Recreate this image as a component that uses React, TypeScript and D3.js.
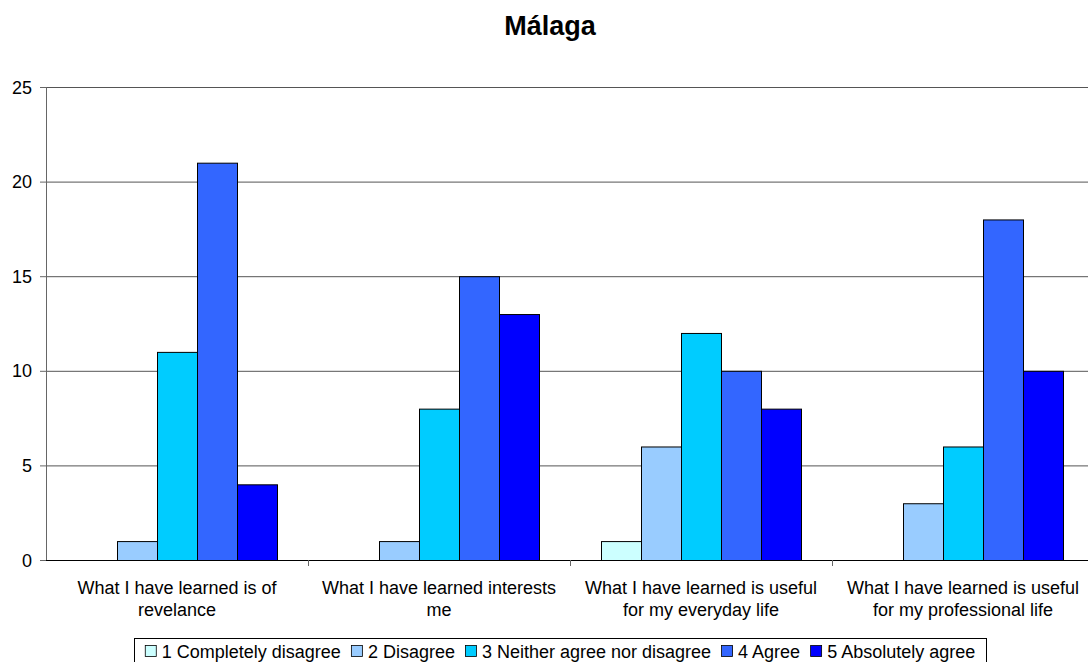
import React, { useEffect, useRef } from "react";
import * as d3 from "d3";

const categories = [
  ["What I have learned is of", "revelance"],
  ["What I have learned interests", "me"],
  ["What I have learned is useful", "for my everyday life"],
  ["What I have learned is useful", "for my professional life"],
];
const seriesNames = [
  "1 Completely disagree",
  "2 Disagree",
  "3 Neither agree nor disagree",
  "4 Agree",
  "5 Absolutely agree",
];
const seriesColors = ["#CCFFFF", "#99CCFF", "#00CCFF", "#3366FF", "#0000FF"];
const completelyDisagree = [0, 0, 1, 0];
const disagree = [1, 1, 6, 3];
const neither = [11, 8, 12, 6];
const agree = [21, 15, 10, 18];
const absolutelyAgree = [4, 13, 8, 10];
const yTicks = [0, 5, 10, 15, 20, 25];
const title = "Málaga";

const FONT = "'Liberation Sans', Arial, sans-serif";

export default function App() {
  const ref = useRef<SVGSVGElement>(null);
  useEffect(() => {
    const svg = d3.select(ref.current);
    svg.selectAll("*").remove();
    const values = [completelyDisagree, disagree, neither, agree, absolutelyAgree];
    const left = 46, top = 87, bottom = 560;
    const groupW = 262;
    const x = d3.scaleBand<number>().domain(d3.range(categories.length)).range([left, left + groupW * categories.length]).paddingInner(0).paddingOuter(0);
    const xi = d3.scaleBand<number>().domain(d3.range(seriesNames.length)).range([31, 231]).padding(0);
    const y = d3.scaleLinear().domain([0, 25]).range([bottom, top]);

    svg.append("text").attr("x", 550).attr("y", 35).attr("text-anchor", "middle")
      .attr("font-family", FONT).attr("font-weight", "bold").attr("font-size", 27).attr("fill", "#000").text(title);

    // gridlines
    svg.append("g").selectAll("line").data(yTicks.filter(t => t > 0)).join("line")
      .attr("x1", left).attr("x2", 1088).attr("y1", d => y(d) + 0.5).attr("y2", d => y(d) + 0.5)
      .attr("stroke", "#555").attr("stroke-width", 1);

    // y axis
    svg.append("line").attr("x1", left + 0.5).attr("x2", left + 0.5).attr("y1", top).attr("y2", bottom).attr("stroke", "#666");
    svg.append("g").selectAll("line").data(yTicks).join("line")
      .attr("x1", left - 6).attr("x2", left).attr("y1", d => y(d) + 0.5).attr("y2", d => y(d) + 0.5).attr("stroke", "#666");
    svg.append("g").selectAll("text").data(yTicks).join("text")
      .attr("x", 32).attr("y", d => y(d) + 6.5).attr("text-anchor", "end")
      .attr("font-family", FONT).attr("font-size", 18).attr("fill", "#000").text(d => d);

    // bars
    values.forEach((vals, s) => {
      svg.append("g").selectAll("rect").data(vals).join("rect")
        .attr("x", (d, i) => (x(i) as number) + (xi(s) as number) + 0.5)
        .attr("y", d => y(d) + 0.5)
        .attr("width", xi.bandwidth())
        .attr("height", d => Math.max(0, y(0) - y(d)))
        .attr("fill", seriesColors[s]).attr("stroke", "#000").attr("stroke-width", 1)
        .style("display", d => (d > 0 ? null : "none"));
    });

    // x axis
    svg.append("line").attr("x1", left).attr("x2", 1088).attr("y1", bottom + 0.5).attr("y2", bottom + 0.5).attr("stroke", "#000");
    svg.append("g").selectAll("line").data(d3.range(1, categories.length)).join("line")
      .attr("x1", i => (x(i) as number) + 0.5).attr("x2", i => (x(i) as number) + 0.5)
      .attr("y1", bottom).attr("y2", bottom + 6).attr("stroke", "#666");

    const lab = svg.append("g").selectAll("text").data(categories).join("text")
      .attr("text-anchor", "middle").attr("font-family", FONT).attr("font-size", 18).attr("fill", "#000");
    lab.each(function (d, i) {
      const t = d3.select(this);
      const cx = (x(i) as number) + groupW / 2;
      d.forEach((line, k) => {
        t.append("tspan").attr("x", cx).attr("y", 594 + k * 22).text(line);
      });
    });

    // legend
    const lg = svg.append("g");
    const boxL = 134, boxR = 986, boxT = 638;
    lg.append("rect").attr("x", boxL + 0.5).attr("y", boxT + 0.5).attr("width", boxR - boxL).attr("height", 30)
      .attr("fill", "#fff").attr("stroke", "#000");
    const items = lg.selectAll("g").data(seriesNames).join("g");
    items.append("rect").attr("width", 11).attr("height", 11).attr("y", 645.5)
      .attr("fill", (d, i) => seriesColors[i]).attr("stroke", "#000").attr("stroke-width", 0.8);
    items.append("text").attr("y", 658).attr("font-family", FONT).attr("font-size", 18).attr("fill", "#000").text(d => d);
    const widths: number[] = [];
    items.select("text").each(function () { widths.push((this as SVGTextElement).getComputedTextLength()); });
    const sq = 11, gapT = 6, gapI = 10;
    const total = d3.sum(widths) + widths.length * (sq + gapT) + (widths.length - 1) * gapI;
    let cx = (boxL + boxR) / 2 - total / 2;
    items.each(function (d, i) {
      const g = d3.select(this);
      g.select("rect").attr("x", cx + 0.5);
      g.select("text").attr("x", cx + sq + gapT);
      cx += sq + gapT + widths[i] + gapI;
    });
  }, []);
  return (
    <svg ref={ref} width={1088} height={662} style={{ position: "absolute", left: 0, top: 0, background: "#fff" }} />
  );
}
